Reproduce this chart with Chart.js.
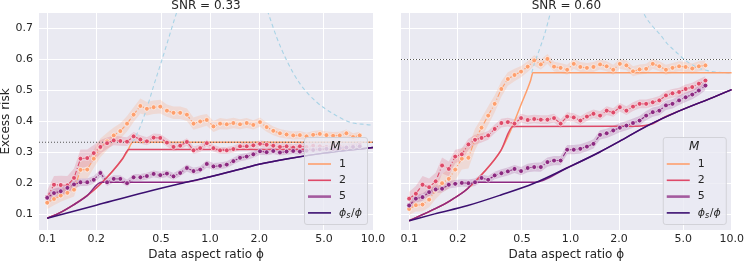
<!DOCTYPE html>
<html>
<head>
<meta charset="utf-8">
<script src="https://cdn.jsdelivr.net/npm/chart.js@4.4.1/dist/chart.umd.min.js"></script>
<style>
  html, body { margin: 0; padding: 0; background: #fff; }
  #wrap { position: relative; width: 747px; height: 262px; overflow: hidden; }
  canvas { position: absolute; top: 0; }
  #leftChart { left: 0; }
  #rightChart { left: 392px; }
</style>
</head>
<body>
<div id="wrap">
  <canvas id="leftChart" width="392" height="262"></canvas>
  <canvas id="rightChart" width="355" height="262"></canvas>
</div>
<script>
const FONT = "'DejaVu Sans', sans-serif";
const TEXT = '#262626';

// axes
const X_MIN = 0.089, X_MAX = 10;
const Y_MIN = 0.05, Y_MAX = 0.75;
const xTickVals = [0.1, 0.2, 0.5, 1, 2, 5, 10];
const xTickLabels = ['0.1', '0.2', '0.5', '1.0', '2.0', '5.0', '10.0'];
const yTickVals = [0.1, 0.2, 0.3, 0.4, 0.5, 0.6, 0.7];
const yTickLabels = ['0.1', '0.2', '0.3', '0.4', '0.5', '0.6', '0.7'];

const panelTitles = ['SNR = 0.33', 'SNR = 0.60'];
const nullRisk = [0.333, 0.6];
const mLabels = ['1', '2', '5'];

// simulated phi values
const phiGrid = [0.100, 0.110, 0.121, 0.133, 0.146, 0.160, 0.176, 0.193, 0.212, 0.233,
  0.256, 0.281, 0.309, 0.339, 0.373, 0.409, 0.450, 0.494, 0.543, 0.596,
  0.655, 0.720, 0.791, 0.869, 0.954, 1.048, 1.151, 1.265, 1.389, 1.526,
  1.677, 1.842, 2.024, 2.223, 2.442, 2.683, 2.947, 3.237, 3.556, 3.907,
  4.292, 4.715, 5.179, 5.690, 6.251, 6.866, 7.543, 8.286];
const phiGridR = phiGrid.slice(0, 46);

// SNR = 0.33, empirical risk
const risk1L = [0.138, 0.150, 0.161, 0.170, 0.180, 0.244, 0.245, 0.280, 0.315, 0.336,
  0.355, 0.369, 0.393, 0.422, 0.450, 0.441, 0.446, 0.448, 0.435, 0.428,
  0.428, 0.422, 0.393, 0.400, 0.405, 0.384, 0.393, 0.391, 0.395, 0.391,
  0.395, 0.389, 0.398, 0.382, 0.370, 0.362, 0.358, 0.355, 0.356, 0.352,
  0.357, 0.360, 0.356, 0.354, 0.355, 0.362, 0.350, 0.355];
const risk2L = [0.156, 0.196, 0.195, 0.194, 0.218, 0.280, 0.282, 0.298, 0.318, 0.330,
  0.339, 0.337, 0.335, 0.352, 0.342, 0.336, 0.348, 0.347, 0.332, 0.318,
  0.322, 0.334, 0.307, 0.314, 0.330, 0.314, 0.307, 0.307, 0.311, 0.320,
  0.320, 0.323, 0.328, 0.325, 0.322, 0.318, 0.320, 0.316, 0.320, 0.318,
  0.322, 0.320, 0.318, 0.322, 0.320, 0.318, 0.322, 0.325];
const risk5L = [0.154, 0.169, 0.175, 0.186, 0.197, 0.204, 0.204, 0.212, 0.234, 0.204,
  0.215, 0.215, 0.201, 0.220, 0.220, 0.224, 0.231, 0.227, 0.232, 0.223,
  0.234, 0.250, 0.240, 0.245, 0.263, 0.255, 0.257, 0.261, 0.272, 0.283,
  0.287, 0.294, 0.304, 0.301, 0.305, 0.300, 0.303, 0.305, 0.303, 0.306,
  0.308, 0.310, 0.312, 0.311, 0.314, 0.316, 0.318, 0.320];
const band1L = [0.020, 0.020, 0.020, 0.020, 0.022, 0.028, 0.030, 0.030, 0.030, 0.028,
  0.026, 0.025, 0.025, 0.024, 0.024, 0.022, 0.022, 0.022, 0.020, 0.020,
  0.020, 0.020, 0.020, 0.020, 0.019, 0.018, 0.018, 0.017, 0.017, 0.016,
  0.016, 0.015, 0.015, 0.015, 0.014, 0.014, 0.013, 0.013, 0.013, 0.012,
  0.012, 0.012, 0.012, 0.012, 0.012, 0.012, 0.012, 0.012];
const band2L = [0.022, 0.028, 0.030, 0.030, 0.030, 0.030, 0.028, 0.026, 0.022, 0.018,
  0.016, 0.015, 0.014, 0.014, 0.014, 0.013, 0.013, 0.013, 0.013, 0.012,
  0.012, 0.012, 0.012, 0.012, 0.011, 0.011, 0.011, 0.011, 0.011, 0.011,
  0.011, 0.011, 0.011, 0.011, 0.011, 0.011, 0.011, 0.011, 0.011, 0.011,
  0.011, 0.011, 0.011, 0.011, 0.011, 0.011, 0.011, 0.011];
const band5L = [0.015, 0.014, 0.014, 0.013, 0.013, 0.012, 0.012, 0.012, 0.012, 0.012,
  0.012, 0.012, 0.011, 0.011, 0.011, 0.011, 0.011, 0.011, 0.011, 0.011,
  0.011, 0.011, 0.011, 0.011, 0.011, 0.011, 0.011, 0.011, 0.011, 0.011,
  0.011, 0.011, 0.011, 0.010, 0.010, 0.010, 0.010, 0.010, 0.010, 0.010,
  0.010, 0.010, 0.010, 0.010, 0.010, 0.010, 0.010, 0.010];

// SNR = 0.60, empirical risk
const risk1R = [0.118, 0.130, 0.132, 0.148, 0.178, 0.201, 0.215, 0.245, 0.280, 0.283,
  0.342, 0.380, 0.419, 0.457, 0.505, 0.537, 0.550, 0.561, 0.577, 0.597,
  0.584, 0.602, 0.577, 0.573, 0.567, 0.586, 0.576, 0.573, 0.576, 0.584,
  0.578, 0.567, 0.586, 0.581, 0.562, 0.568, 0.570, 0.586, 0.578, 0.567,
  0.573, 0.578, 0.576, 0.571, 0.578, 0.581];
const risk2R = [0.151, 0.167, 0.196, 0.188, 0.207, 0.258, 0.247, 0.287, 0.294, 0.326,
  0.341, 0.347, 0.355, 0.376, 0.395, 0.398, 0.393, 0.411, 0.405, 0.408,
  0.406, 0.406, 0.411, 0.393, 0.416, 0.413, 0.403, 0.416, 0.425, 0.419,
  0.435, 0.429, 0.446, 0.435, 0.448, 0.457, 0.457, 0.462, 0.468, 0.484,
  0.491, 0.495, 0.505, 0.511, 0.522, 0.532];
const risk5R = [0.129, 0.151, 0.156, 0.172, 0.181, 0.183, 0.196, 0.199, 0.202, 0.201,
  0.204, 0.218, 0.212, 0.226, 0.233, 0.239, 0.247, 0.240, 0.250, 0.253,
  0.253, 0.269, 0.274, 0.274, 0.309, 0.309, 0.312, 0.319, 0.328, 0.357,
  0.362, 0.371, 0.380, 0.387, 0.395, 0.403, 0.419, 0.430, 0.435, 0.452,
  0.457, 0.468, 0.478, 0.487, 0.500, 0.516];
const band1R = [0.020, 0.020, 0.022, 0.025, 0.028, 0.030, 0.032, 0.035, 0.035, 0.035,
  0.035, 0.032, 0.030, 0.028, 0.025, 0.022, 0.020, 0.018, 0.017, 0.017,
  0.016, 0.016, 0.016, 0.016, 0.016, 0.016, 0.016, 0.016, 0.016, 0.016,
  0.016, 0.016, 0.016, 0.016, 0.016, 0.016, 0.016, 0.016, 0.016, 0.016,
  0.016, 0.016, 0.016, 0.016, 0.016, 0.016];
const band2R = [0.022, 0.025, 0.028, 0.028, 0.028, 0.026, 0.024, 0.022, 0.020, 0.018,
  0.016, 0.015, 0.014, 0.014, 0.014, 0.014, 0.014, 0.014, 0.014, 0.014,
  0.014, 0.014, 0.014, 0.014, 0.014, 0.014, 0.014, 0.014, 0.014, 0.014,
  0.014, 0.014, 0.014, 0.014, 0.014, 0.014, 0.014, 0.014, 0.014, 0.014,
  0.014, 0.014, 0.014, 0.014, 0.014, 0.014];
const band5R = [0.014, 0.013, 0.012, 0.012, 0.012, 0.012, 0.012, 0.012, 0.012, 0.012,
  0.012, 0.012, 0.012, 0.012, 0.013, 0.013, 0.013, 0.013, 0.014, 0.014,
  0.015, 0.015, 0.015, 0.015, 0.015, 0.015, 0.015, 0.015, 0.015, 0.015,
  0.015, 0.015, 0.015, 0.015, 0.015, 0.015, 0.015, 0.015, 0.015, 0.015,
  0.015, 0.015, 0.015, 0.015, 0.015, 0.015];

// SNR = 0.33, theory curves
const thPhi1L = [0.1, 0.12, 0.145, 0.175, 0.21, 0.25, 0.29, 0.31, 0.335, 10];
const thRisk1L = [0.088, 0.106, 0.131, 0.16, 0.196, 0.238, 0.28, 0.303, 0.333, 0.333];
const thPhi2L = [0.1, 0.12, 0.145, 0.175, 0.21, 0.25, 0.29, 0.317, 7.5, 10];
const thRisk2L = [0.088, 0.106, 0.131, 0.16, 0.196, 0.238, 0.28, 0.31, 0.31, 0.316];
const thPhi5L = [0.1, 0.12, 0.145, 0.175, 0.215, 0.69, 1.0, 1.5, 2, 3, 5, 7, 10];
const thRisk5L = [0.088, 0.106, 0.131, 0.16, 0.204, 0.204, 0.222, 0.245, 0.262, 0.28, 0.298, 0.307, 0.316];
const ratioPhiL = [0.1, 0.2, 0.4, 0.7, 1, 1.5, 2, 3, 5, 7, 10];
const ratioRiskL = [0.088, 0.13, 0.172, 0.203, 0.222, 0.245, 0.262, 0.28, 0.298, 0.307, 0.316];
const ridgePhiL = [0.335, 0.37, 0.41, 0.45, 0.5, 0.55, 0.6, 0.63, 0.66, 1,
  2.1, 2.28, 2.56, 2.95, 3.56, 4.52, 5.7, 7.2, 9.16, 10];
const ridgeRiskL = [0.333, 0.38, 0.445, 0.515, 0.59, 0.66, 0.725, 0.76, 0.8, null,
  0.8, 0.748, 0.672, 0.597, 0.522, 0.462, 0.425, 0.398, 0.39, 0.388];

// SNR = 0.60, theory curves
const thPhi1R = [0.1, 0.144, 0.18, 0.23, 0.29, 0.37, 0.426, 0.49, 0.566, 0.585, 10];
const thRisk1R = [0.08, 0.118, 0.145, 0.183, 0.236, 0.306, 0.371, 0.45, 0.532, 0.557, 0.557];
const thPhi2R = [0.1, 0.144, 0.18, 0.23, 0.29, 0.37, 0.44, 2.6, 3.2, 3.7, 4.77, 7.67, 10];
const thRisk2R = [0.08, 0.118, 0.145, 0.183, 0.236, 0.306, 0.384, 0.385, 0.392, 0.41, 0.435, 0.478, 0.503];
const thPhi5R = [0.1, 0.144, 0.18, 0.23, 0.25, 0.6, 0.95, 1.5, 2.0, 2.97, 4.77, 7.67, 10];
const thRisk5R = [0.08, 0.118, 0.145, 0.183, 0.204, 0.204, 0.25, 0.3, 0.335, 0.385, 0.435, 0.478, 0.503];
const ratioPhiR = [0.1, 0.144, 0.231, 0.37, 0.59, 0.95, 1.5, 2.0, 2.97, 4.77, 7.67, 10];
const ratioRiskR = [0.08, 0.102, 0.129, 0.163, 0.2, 0.25, 0.3, 0.335, 0.385, 0.435, 0.478, 0.503];
const ridgePhiR = [0.575, 0.6, 0.64, 0.69, 0.75, 0.8, 1,
  2.6, 2.84, 3.2, 3.6, 4.0, 4.5, 5.0, 5.9, 7.1, 8.7, 10];
const ridgeRiskR = [0.557, 0.59, 0.63, 0.68, 0.75, 0.81, null,
  0.81, 0.75, 0.71, 0.68, 0.65, 0.625, 0.603, 0.578, 0.564, 0.558, 0.556];

// magma palette, M = 1, 2, 5 and phi_s/phi
const colM = ['#fe9f6d', '#de4968', '#8c2981'];
const bandCol = ['rgba(254,159,109,0.22)', 'rgba(222,73,104,0.2)', 'rgba(140,41,129,0.2)'];
const colRatio = '#3b0f70';
const colRidge = '#a8d3e6';

function xy(xs, ys) {
    return xs.map((x, i) => ({ x: x, y: ys[i] }));
}

function shifted(xs, ys, hw, sign) {
    return xs.map((x, i) => ({ x: x, y: ys[i] + sign * hw[i] }));
}

function panelDatasets(p) {
    const ds = [];
    // confidence bands
    p.risk.forEach((r, m) => {
        ds.push({ data: shifted(p.phi, r, p.band[m], 1), borderWidth: 0, pointRadius: 0,
            backgroundColor: bandCol[m], fill: '+1', order: 30 - m });
        ds.push({ data: shifted(p.phi, r, p.band[m], -1), borderWidth: 0, pointRadius: 0,
            fill: false, order: 30 - m });
    });
    // ridgeless curve
    ds.push({ data: xy(p.ridgePhi, p.ridgeRisk), borderColor: colRidge, borderWidth: 1.1,
        borderDash: [4, 3], pointRadius: 0, fill: false, cubicInterpolationMode: 'monotone', order: 15 });
    // theory lines
    p.thPhi.forEach((xs, m) => {
        ds.push({ data: xy(xs, p.thRisk[m]), borderColor: colM[m], borderWidth: 1.5,
            pointRadius: 0, fill: false, cubicInterpolationMode: 'monotone', order: 12 - m });
    });
    ds.push({ data: xy(p.ratioPhi, p.ratioRisk), borderColor: colRatio, borderWidth: 1.5,
        pointRadius: 0, fill: false, cubicInterpolationMode: 'monotone', order: 9 });
    // null risk
    ds.push({ data: xy([X_MIN, X_MAX], [p.nullRisk, p.nullRisk]), borderColor: '#555',
        borderWidth: 1.1, borderDash: [1, 2], pointRadius: 0, fill: false, order: 8 });
    // empirical
    p.risk.forEach((r, m) => {
        ds.push({ data: xy(p.phi, r), borderColor: colM[m], borderWidth: 1.1,
            borderDash: [5, 2, 1, 2], pointRadius: 2.4, pointBorderWidth: 0.6,
            pointBorderColor: '#fff', pointBackgroundColor: colM[m], fill: false, order: 7 - m });
    });
    return ds;
}

const panelBackground = {
    id: 'panelBackground',
    beforeDraw(chart) {
        const { ctx, chartArea: a } = chart;
        ctx.save();
        ctx.fillStyle = '#eaeaf2';
        ctx.fillRect(a.left, a.top, a.right - a.left, a.bottom - a.top);
        ctx.restore();
    }
};

function drawRatioLabel(ctx, x, y) {
    ctx.font = 'italic 11px ' + FONT;
    ctx.fillText('\u03d5', x, y);
    let w = ctx.measureText('\u03d5').width;
    ctx.font = 'italic 8px ' + FONT;
    ctx.fillText('s', x + w, y + 3);
    w += ctx.measureText('s').width + 0.5;
    ctx.font = '11px ' + FONT;
    ctx.fillText('/', x + w, y);
    w += ctx.measureText('/').width;
    ctx.font = 'italic 11px ' + FONT;
    ctx.fillText('\u03d5', x + w, y);
}

const mLegend = {
    id: 'mLegend',
    afterDraw(chart) {
        const { ctx, chartArea } = chart;
        const w = 63, h = 87;
        const x0 = chartArea.right - 6 - w, y0 = chartArea.bottom - 6 - h;
        ctx.save();
        ctx.beginPath();
        ctx.roundRect(x0 + 0.5, y0 + 0.5, w, h, 2.5);
        ctx.globalAlpha = 0.8;
        ctx.fillStyle = '#eaeaf2';
        ctx.fill();
        ctx.globalAlpha = 1;
        ctx.strokeStyle = '#d2d2d8';
        ctx.lineWidth = 1;
        ctx.stroke();

        ctx.fillStyle = TEXT;
        ctx.textBaseline = 'middle';
        ctx.textAlign = 'center';
        ctx.font = 'italic 12px ' + FONT;
        ctx.fillText('M', x0 + w / 2, y0 + 10);

        const handles = [
            { color: colM[0], width: 1.6, alpha: 1 },
            { color: colM[1], width: 1.6, alpha: 1 },
            { color: colM[2], width: 2.6, alpha: 0.75 },
            { color: colRatio, width: 1.6, alpha: 1 }
        ];
        ctx.textAlign = 'left';
        handles.forEach((hd, i) => {
            const y = y0 + 27 + i * 16.3;
            ctx.globalAlpha = hd.alpha;
            ctx.strokeStyle = hd.color;
            ctx.lineWidth = hd.width;
            ctx.beginPath();
            ctx.moveTo(x0 + 4, y);
            ctx.lineTo(x0 + 27, y);
            ctx.stroke();
            ctx.globalAlpha = 1;
            ctx.fillStyle = TEXT;
            if (i < 3) {
                ctx.font = '11px ' + FONT;
                ctx.fillText(mLabels[i], x0 + 35, y);
            } else {
                drawRatioLabel(ctx, x0 + 35, y);
            }
        });
        ctx.restore();
    }
};

function buildChart(canvasId, p, isLeft) {
    new Chart(document.getElementById(canvasId), {
        type: 'line',
        data: { datasets: panelDatasets(p) },
        options: {
            animation: false,
            responsive: false,
            devicePixelRatio: 1,
            layout: { padding: { left: 0, right: p.padRight, top: 0, bottom: 0 } },
            plugins: {
                legend: { display: false },
                tooltip: { enabled: false },
                title: {
                    display: true,
                    fullSize: false,
                    text: p.title,
                    color: TEXT,
                    font: { family: FONT, size: 12, weight: 'normal', lineHeight: 1 },
                    padding: { top: 0, bottom: 1 }
                }
            },
            scales: {
                x: {
                    type: 'logarithmic',
                    min: X_MIN,
                    max: X_MAX,
                    afterBuildTicks: s => { s.ticks = xTickVals.map(v => ({ value: v })); },
                    afterFit: s => { s.height = 32; },
                    ticks: {
                        autoSkip: false, maxRotation: 0, padding: 3, color: TEXT,
                        font: { family: FONT, size: 11 },
                        callback: (v, i) => xTickLabels[i]
                    },
                    grid: { color: '#ffffff', lineWidth: 1, drawTicks: false },
                    border: { display: false },
                    title: {
                        display: true, text: 'Data aspect ratio \u03d5', color: TEXT,
                        font: { family: FONT, size: 12, lineHeight: 1 },
                        padding: { top: 0, bottom: 1 }
                    }
                },
                y: {
                    type: 'linear',
                    min: Y_MIN,
                    max: Y_MAX,
                    afterBuildTicks: s => { s.ticks = yTickVals.map(v => ({ value: v })); },
                    afterFit: s => { s.width = isLeft ? 39 : 9; },
                    ticks: {
                        display: isLeft, padding: 6, color: TEXT,
                        font: { family: FONT, size: 11 },
                        callback: (v, i) => yTickLabels[i]
                    },
                    grid: { color: '#ffffff', lineWidth: 1, drawTicks: false },
                    border: { display: false },
                    title: {
                        display: isLeft, text: 'Excess risk', color: TEXT,
                        font: { family: FONT, size: 12, lineHeight: 1 },
                        padding: { top: 0, bottom: 0 }
                    }
                }
            }
        },
        plugins: [panelBackground, mLegend]
    });
}

buildChart('leftChart', {
    title: panelTitles[0], nullRisk: nullRisk[0], padRight: 19,
    phi: phiGrid, risk: [risk1L, risk2L, risk5L], band: [band1L, band2L, band5L],
    thPhi: [thPhi1L, thPhi2L, thPhi5L], thRisk: [thRisk1L, thRisk2L, thRisk5L],
    ratioPhi: ratioPhiL, ratioRisk: ratioRiskL, ridgePhi: ridgePhiL, ridgeRisk: ridgeRiskL
}, true);

buildChart('rightChart', {
    title: panelTitles[1], nullRisk: nullRisk[1], padRight: 13,
    phi: phiGridR, risk: [risk1R, risk2R, risk5R], band: [band1R, band2R, band5R],
    thPhi: [thPhi1R, thPhi2R, thPhi5R], thRisk: [thRisk1R, thRisk2R, thRisk5R],
    ratioPhi: ratioPhiR, ratioRisk: ratioRiskR, ridgePhi: ridgePhiR, ridgeRisk: ridgeRiskR
}, false);
</script>
</body>
</html>
